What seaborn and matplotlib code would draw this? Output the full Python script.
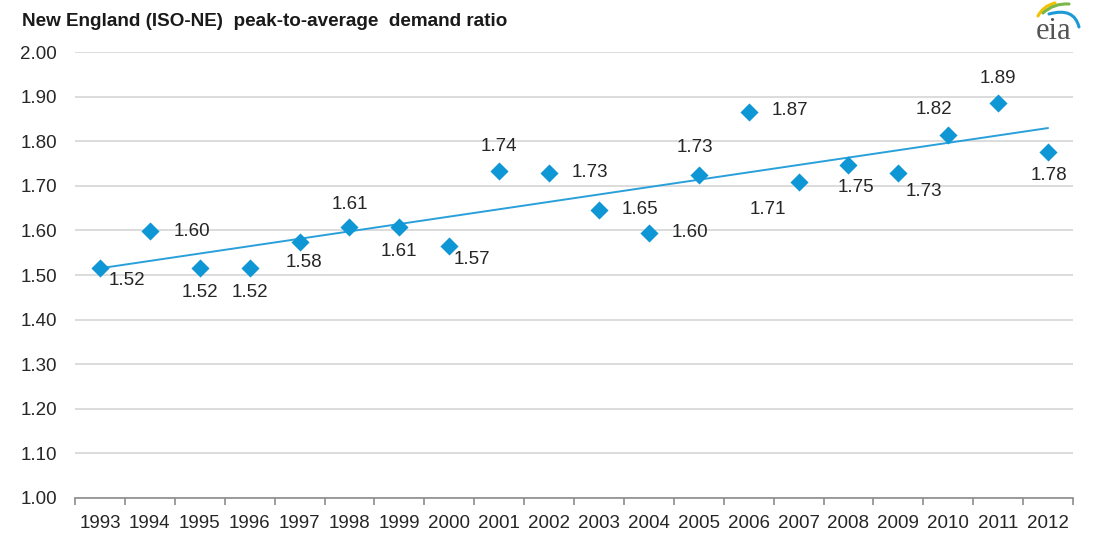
import numpy as np
import seaborn as sns
import matplotlib.pyplot as plt
from matplotlib.path import Path
from matplotlib.patches import PathPatch

years = [str(y) for y in range(1993, 2013)]
ratio = [1.515, 1.598, 1.515, 1.515, 1.574, 1.607, 1.607, 1.565, 1.733, 1.728,
         1.645, 1.595, 1.724, 1.866, 1.708, 1.747, 1.728, 1.814, 1.886, 1.775]
point_labels = ["1.52", "1.60", "1.52", "1.52", "1.58", "1.61", "1.61", "1.57", "1.74", "1.73",
                "1.65", "1.60", "1.73", "1.87", "1.71", "1.75", "1.73", "1.82", "1.89", "1.78"]
# where each label sits relative to its marker, in pixels
label_offsets = [(27, -12), (42, 0), (0, -24), (0, -24), (4, -21), (0, 23), (0, -24), (23, -13),
                 (0, 25), (41, 1), (41, 1), (41, 0), (-4, 28), (41, 1), (-31, -27), (7, -23),
                 (26, -18), (-14, 25), (0, 24), (1, -23)]

blue = "#0f96d4"
txt = "#262626"

sns.set_style("white")
plt.rcParams["font.family"] = ["Liberation Sans", "DejaVu Sans"]

fig = plt.figure(figsize=(10.99, 5.34), dpi=100)
ax = fig.add_axes([75 / 1099, 36 / 534, 998 / 1099, 446 / 534])

x = np.arange(len(years))
sns.regplot(x=x, y=ratio, scatter=False, ci=None, ax=ax,
            line_kws={"color": "#2aa0da", "lw": 1.4, "zorder": 2})
sns.scatterplot(x=x, y=ratio, marker="D", s=85, color=blue, linewidth=0, ax=ax, zorder=3)

for xi, yi, lab, (dx, dy) in zip(x, ratio, point_labels, label_offsets):
    ax.annotate(lab, (xi, yi), xytext=(dx, dy), textcoords="offset pixels",
                ha="center", va="center", fontsize=13.5, color=txt)

ax.set_xlim(-0.5, len(years) - 0.5)
ax.set_ylim(1.0, 2.0)
ax.set_yticks(np.arange(1.0, 2.01, 0.1))
ax.set_yticklabels([f"{v:.2f}" for v in np.arange(1.0, 2.01, 0.1)])
ax.yaxis.grid(True, color="#d9d9d9", lw=1.3)
ax.tick_params(axis="y", length=0, pad=13, labelsize=13.5, labelcolor=txt)

ax.set_xticks(np.arange(-0.5, len(years), 1.0))
ax.set_xticklabels([])
ax.set_xticks(x, minor=True)
ax.set_xticklabels(years, minor=True)
ax.tick_params(axis="x", which="major", bottom=True, length=5, width=1.2,
               color="#8c8c8c", direction="out")
ax.tick_params(axis="x", which="minor", bottom=True, length=0, pad=12,
               labelsize=13.5, labelcolor=txt)
ax.set_xlabel("")
ax.set_ylabel("")

for side in ["left", "right", "top"]:
    ax.spines[side].set_visible(False)
ax.spines["bottom"].set_color("#8c8c8c")
ax.spines["bottom"].set_linewidth(1.2)

fig.text(22 / 1099, 1 - 22 / 534, "New England (ISO-NE)  peak-to-average  demand ratio",
         fontsize=13.6, fontweight="bold", color="#1a1a1a", va="center", ha="left")

# eia logo, drawn in pixel coordinates of the top right corner
lax = fig.add_axes([1020 / 1099, 1 - 50 / 534, 79 / 1099, 50 / 534])
lax.set_xlim(1020, 1099)
lax.set_ylim(50, 0)
lax.axis("off")
lax.text(1054, 39, "eia", fontsize=22, color="#555555", ha="center", va="baseline",
         family=["Liberation Serif", "DejaVu Serif"])
swooshes = [
    ([(1038, 16), (1043, 6), (1055, 3)], "#f2c200"),
    ([(1043, 13), (1054, 3), (1069, 4)], "#7ab648"),
    ([(1049, 14), (1074, 7), (1079, 27)], "#1c9ad6"),
]
for pts, col in swooshes:
    p = Path(pts, [Path.MOVETO, Path.CURVE3, Path.CURVE3])
    lax.add_patch(PathPatch(p, fill=False, edgecolor=col, lw=2.2, capstyle="round"))

fig.savefig("out.png", dpi=100)
